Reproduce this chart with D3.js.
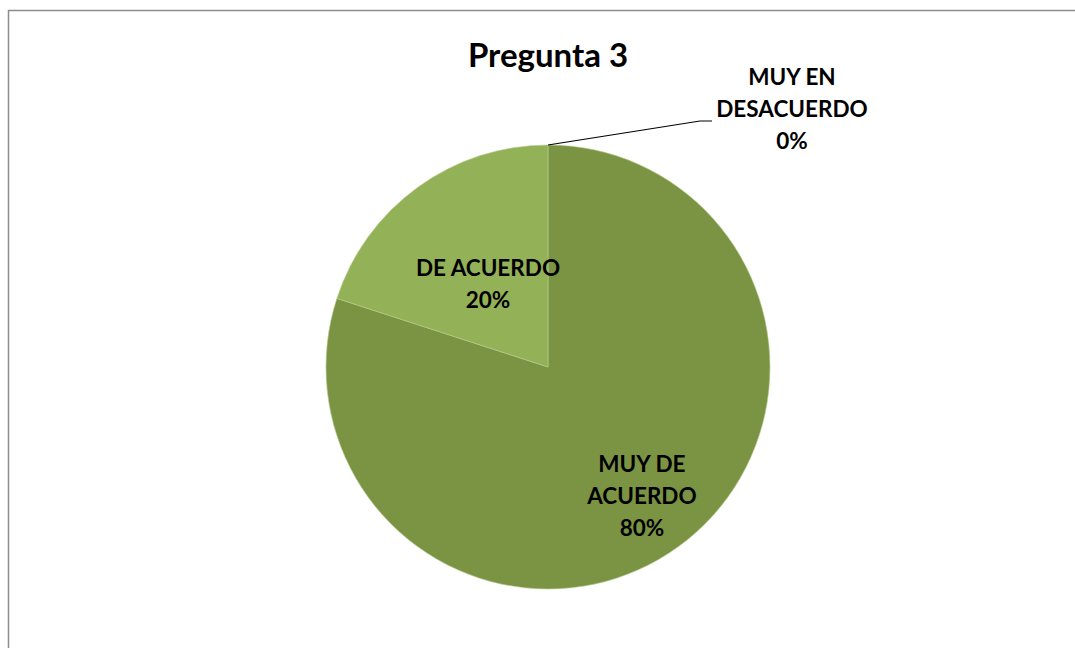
<!DOCTYPE html>
<html>
<head>
<meta charset="utf-8">
<script src="https://cdn.jsdelivr.net/npm/d3@7"></script>
<style>
  body { margin: 0; background: #fff; }
  svg text { font-family: Lato, "Open Sans", sans-serif; font-weight: bold; fill: #000; }
</style>
</head>
<body>
<div id="chart"></div>
<script>
(function(){
// Chart data
const categories = ["MUY DE ACUERDO", "DE ACUERDO", "MUY EN DESACUERDO"];
const values = [80, 20, 0];
const labelLines = [["MUY DE", "ACUERDO", "80%"], ["DE ACUERDO", "20%"], ["MUY EN", "DESACUERDO", "0%"]];
const title = "Pregunta 3";

const width = 1075, height = 648;
const cx = 548, cy = 367, radius = 222;

const svg = d3.select("#chart")
    .append("svg")
    .attr("width", width)
    .attr("height", height);

// outer frame (partly cut by the window)
svg.append("rect")
    .attr("x", 8.5).attr("y", 10.5)
    .attr("width", width + 20).attr("height", height + 20)
    .attr("fill", "none")
    .attr("stroke", "#8c8c8c")
    .attr("stroke-width", 1.5);

svg.append("text")
    .attr("x", cx)
    .attr("y", 67)
    .attr("text-anchor", "middle")
    .style("font-size", "33px")
    .text(title);

const color = d3.scaleOrdinal()
    .domain(categories)
    .range(["#7b9444", "#93b157", "#aec77a"]);

const pie = d3.pie().sort(null).value(d => d.value);
const data = categories.map((c, i) => ({ cat: c, value: values[i], lines: labelLines[i] }));
const arcs = pie(data);

const arc = d3.arc().innerRadius(0).outerRadius(radius);

const g = svg.append("g").attr("transform", `translate(${cx},${cy})`);

g.selectAll("path")
    .data(arcs.filter(d => d.value > 0))
    .enter()
    .append("path")
    .attr("d", arc)
    .attr("fill", d => color(d.data.cat))
    .attr("stroke", "#b8cc90")
    .attr("stroke-width", 0.6);

// label radius per slice, as fraction of the radius
const labelFrac = { "MUY DE ACUERDO": 0.72, "DE ACUERDO": 0.46 };
const lineH = 32;

arcs.forEach(d => {
    const mid = (d.startAngle + d.endAngle) / 2;
    let lx, ly;
    if (d.value > 0) {
        const r = radius * labelFrac[d.data.cat];
        lx = r * Math.sin(mid);
        ly = -r * Math.cos(mid);
    } else {
        // outside label with leader line
        const p0 = [radius * Math.sin(mid), -radius * Math.cos(mid)];
        const p1 = [p0[0] + 152, p0[1] - 24];
        const p2 = [p1[0] + 12, p1[1]];
        g.append("polyline")
            .attr("points", [p0, p1, p2].map(p => p.join(",")).join(" "))
            .attr("fill", "none")
            .attr("stroke", "#000")
            .attr("stroke-width", 1.2);
        lx = p2[0] + 80;
        ly = p2[1] - 12;
    }
    const t = g.append("text")
        .attr("text-anchor", "middle")
        .style("font-size", "22.5px");
    const n = d.data.lines.length;
    d.data.lines.forEach((line, i) => {
        t.append("tspan")
            .attr("x", lx)
            .attr("y", ly + (i - (n - 1) / 2) * lineH + 8)
            .text(line);
    });
});
})();
</script>
</body>
</html>
